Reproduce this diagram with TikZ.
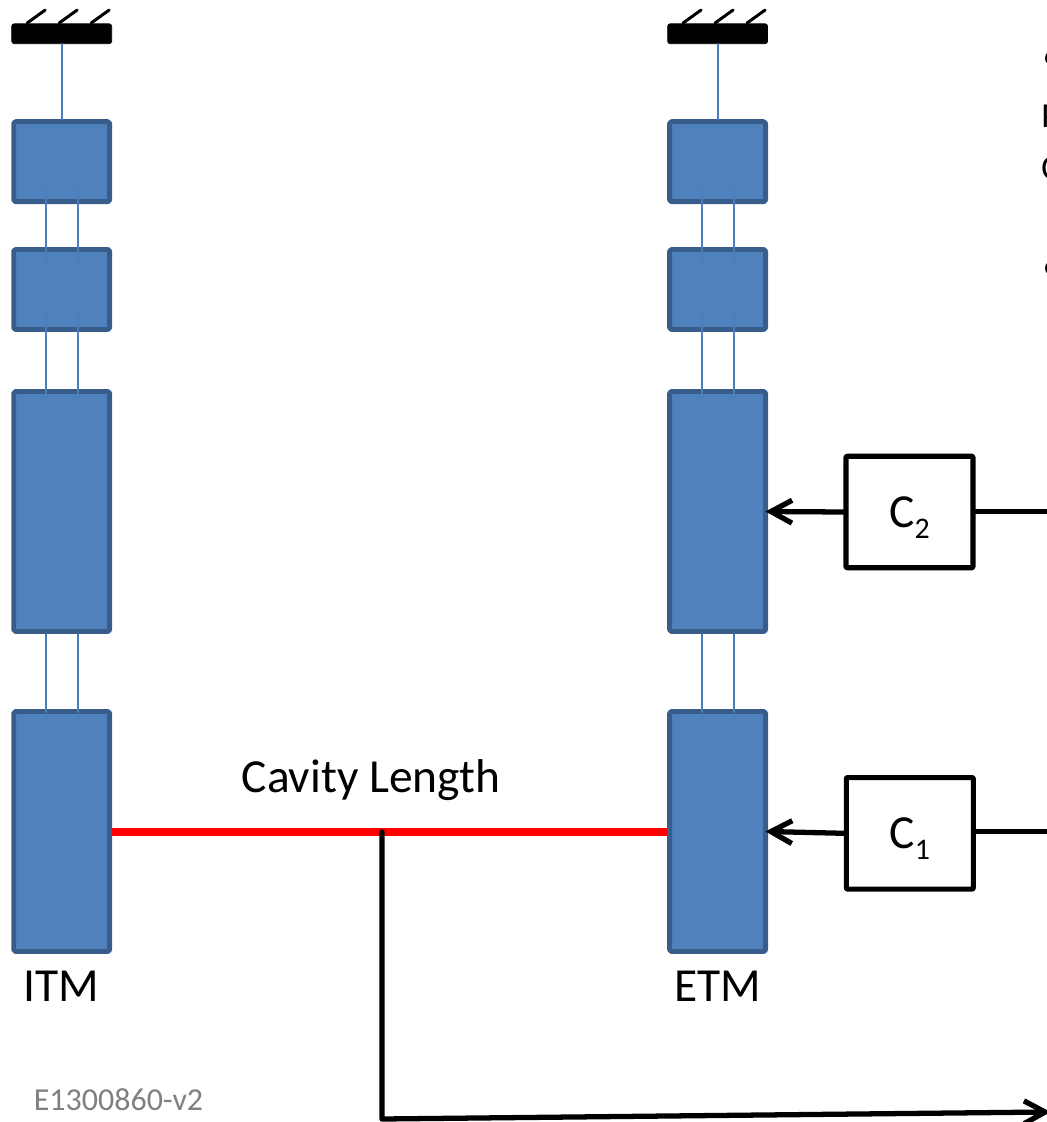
\documentclass[tikz,border=0pt]{standalone}
\usepackage{fontspec}
\setmainfont{Carlito}
\usetikzlibrary{arrows.meta, calc}

\definecolor{stagefill}{HTML}{4F81BD}
\definecolor{stageedge}{HTML}{385D8A}
\definecolor{wireblue}{HTML}{4A7EBB}
\newcommand{\subtwo}[1]{\smash{\raisebox{-6.5pt}{\fontsize{17}{20}\selectfont #1}}}

\begin{document}
\begin{tikzpicture}[x=0.02cm, y=-0.02cm, line cap=round, line join=round]

% --- Styles ---
\tikzset{
    stage/.style={
        draw=stageedge,
        fill=stagefill,
        line width=2.8pt,
        rounded corners=1pt,
        minimum width=1.92cm,
        inner sep=0pt
    },
    wire/.style={
        draw=wireblue,
        line width=1.05pt
    },
    ceiling/.style={
        fill=black,
        draw=black,
        rounded corners=1.5pt,
        minimum width=2cm,
        minimum height=0.4cm,
        inner sep=0pt
    },
    hatch/.style={
        draw=black,
        line width=1.7pt
    },
    filterbox/.style={
        draw=black,
        fill=white,
        line width=2.9pt,
        rounded corners=0.5pt,
        minimum width=2.54cm,
        minimum height=2.23cm,
        inner sep=0pt,
        font=\fontsize{27}{32}\selectfont
    },
    signal/.style={
        draw=black,
        line width=3pt
    },
    signalarrow/.style={
        signal,
        shorten >=-1.5pt,
        -{Straight Barb[length=12pt, width=13pt, line width=3pt]}
    },
    label/.style={
        font=\fontsize{27}{32}\selectfont,
        inner sep=0pt
    },
    cutlabel/.style={
        font=\fontsize{20}{24}\selectfont,
        inner sep=0pt,
        anchor=base west
    }
}

\useasboundingbox (0,0) rectangle (1046,1122);

% --- De twee ophangingen ---
\foreach \name/\xs in {itm/61.7, etm/717.6} {
    \node[ceiling] (\name top) at (\xs,33.75) {};
    \foreach \dx in {-34.5, -2.5, 29.5}
        \draw[hatch] (\xs+\dx,23) -- (\xs+\dx+18,10);

    \node[stage, minimum height=1.6cm] (\name a) at (\xs,161.7) {};
    \node[stage, minimum height=1.6cm] (\name b) at (\xs,289.5) {};
    \node[stage, minimum height=4.8cm] (\name c) at (\xs,511.5) {};
    \node[stage, minimum height=4.8cm] (\name d) at (\xs,831.5) {};

    \draw[wire] (\name top.south) -- (\name a.north);
    \foreach \dx in {-16, 16} {
        \draw[wire] ($(\name a.south)+(\dx,-17)$) -- ($(\name b.north)+(\dx,18)$);
        \draw[wire] ($(\name b.south)+(\dx,-19)$) -- ($(\name c.north)+(\dx,4)$);
        \draw[wire] ($(\name c.south)+(\dx,0)$) -- ($(\name d.north)+(\dx,3)$);
    }
}

% --- Filters ---
\node[filterbox] (Ctwo) at (909.5,512) {C\subtwo{2}};
\node[filterbox] (Cone) at (909.8,833.3) {C\subtwo{1}};

\coordinate (outtwo) at (1048,511.7);
\coordinate (outone) at (1048,831.7);

\draw[signalarrow] (Ctwo.west) -- (etmc.east);
\draw[signalarrow] (Cone.west) -- (etmd.east);
\draw[signal] (Ctwo.east |- outtwo) -- (outtwo);
\draw[signal] (Cone.east |- outone) -- (outone);

% --- Cavity ---
\coordinate (tap) at (382,832);
\coordinate (corner) at (382,1119);
\coordinate (out) at (1048,1112);
\draw[draw=red, line width=4.4pt, line cap=butt] (itmd.east |- tap) -- (etmd.west |- tap);
\draw[signalarrow] (tap) -- (corner) -- (out);

% --- Labels ---
\node[label] (cavitylabel) at (371,780) {Cavity Length};
\node[label] (itmlabel) at (61.5,986) {ITM};
\node[label] (etmlabel) at (717.6,986) {ETM};
\node[label, text=gray, font=\fontsize{18.2}{22}\selectfont] (doclabel) at (118.5,1100) {E1300860-v2};

% --- Afgesneden tekst aan de rand ---
\node[cutlabel, font=\fontsize{24}{28}\selectfont] (bulleta) at (1042.5,71) {•};
\node[cutlabel] (linea) at (1041,128) {P};
\node[cutlabel] (lineb) at (1041,179) {C};
\node[cutlabel, font=\fontsize{24}{28}\selectfont] (bulletb) at (1042.5,280) {•};

\end{tikzpicture}
\end{document}
